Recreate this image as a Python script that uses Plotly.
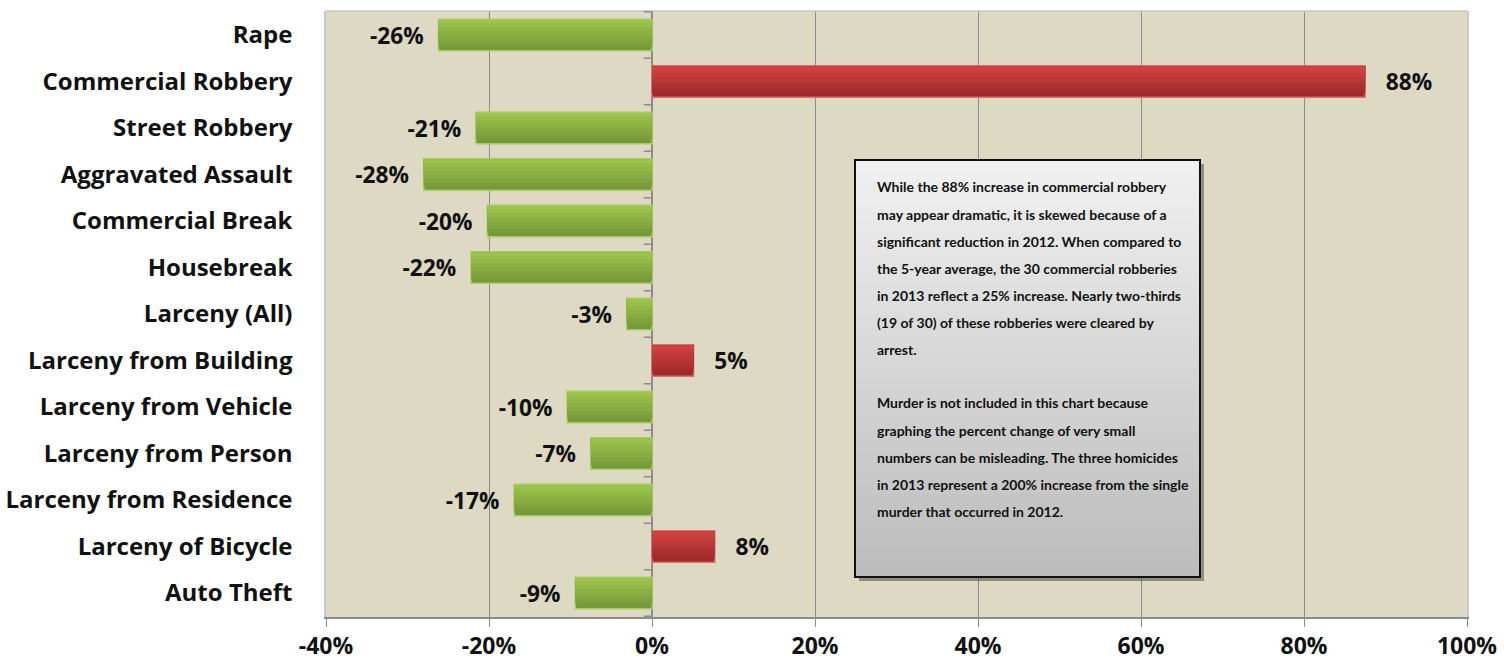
import plotly.graph_objects as go

categories = ["Rape", "Commercial Robbery", "Street Robbery", "Aggravated Assault",
              "Commercial Break", "Housebreak", "Larceny (All)", "Larceny from Building",
              "Larceny from Vehicle", "Larceny from Person", "Larceny from Residence",
              "Larceny of Bicycle", "Auto Theft"]
values = [-26.2, 87.5, -21.6, -28.0, -20.2, -22.2, -3.1, 5.1, -10.4, -7.5, -16.9, 7.7, -9.4]
labels = ["-26%", "88%", "-21%", "-28%", "-20%", "-22%", "-3%", "5%", "-10%", "-7%",
          "-17%", "8%", "-9%"]
x_ticks = [-40, -20, 0, 20, 40, 60, 80, 100]
x_tick_text = ["-40%", "-20%", "0%", "20%", "40%", "60%", "80%", "100%"]

note_lines = [
    "While the 88% increase in commercial robbery",
    "may appear dramatic, it is skewed because of a",
    "significant reduction in 2012. When compared to",
    "the 5-year average, the 30 commercial robberies",
    "in 2013 reflect a 25% increase. Nearly two-thirds",
    "(19 of 30) of these robberies were cleared by",
    "arrest.",
    "",
    "Murder is not included in this chart because",
    "graphing the percent change of very small",
    "numbers can be misleading. The three homicides",
    "in 2013 represent a 200% increase from the single",
    "murder that occurred in 2012.",
]

FONT = "Open Sans"
NOTE_FONT = "Lato"
NBSP = "\u00a0"

def lerp(c0, c1, t):
    return "rgb(%d,%d,%d)" % tuple(int(round(c0[j] + (c1[j] - c0[j]) * t)) for j in range(3))

g_bot, g_top = (0x76, 0x98, 0x38), (0x9c, 0xc4, 0x4c)
r_bot, r_top = (0x9e, 0x28, 0x2a), (0xd0, 0x42, 0x42)
NB = 8

fig = go.Figure()
BW = 0.68
fig.add_trace(go.Bar(
    y=categories, x=values, orientation="h",
    marker=dict(color=[lerp(r_bot, r_top, 0) if v > 0 else lerp(g_bot, g_top, 0) for v in values],
                line=dict(color=["#d87070" if v > 0 else "#a9cc62" for v in values], width=1.5)),
    width=BW, hoverinfo="skip",
))
for k in range(1, NB):
    t = k / (NB - 1)
    w = BW * (1 - k / NB) - 0.02
    fig.add_trace(go.Bar(
        y=categories, x=values, orientation="h",
        marker=dict(color=[lerp(r_bot, r_top, t) if v > 0 else lerp(g_bot, g_top, t) for v in values],
                    line=dict(width=0)),
        width=w, offset=-BW / 2 + 0.02, hoverinfo="skip",
    ))
fig.add_trace(go.Bar(
    y=categories, x=values, orientation="h",
    marker=dict(color="rgba(0,0,0,0)", line=dict(width=0)),
    width=BW,
    text=[(l + NBSP * 2) if v < 0 else (NBSP * 3 + l) for l, v in zip(labels, values)],
    textposition="outside", cliponaxis=False,
    textfont=dict(family=FONT, size=23, color="#111111", weight="bold"),
    hoverinfo="skip",
))

W, H = 1504, 667
ml, mr, mt, mb = 326, 37, 11, 50
pw, ph = W - ml - mr, H - mt - mb

def px_x(px):
    return (px - ml) / pw

def px_y(py):
    return 1 - (py - mt) / ph

shapes = []
shapes.append(dict(type="line", xref="paper", yref="paper", x0=0, x1=1, y0=1, y1=1,
                   line=dict(color="#c8c8c8", width=1.5)))
for i in range(len(categories) + 1):
    shapes.append(dict(type="line", xref="x", yref="y", x0=-1.0, x1=0,
                       y0=i - 0.5, y1=i - 0.5, line=dict(color="#8c8c8c", width=1.5)))

bx0, bx1, by0, by1 = 855, 1200, 160, 577
shapes.append(dict(type="rect", xref="paper", yref="paper",
                   x0=px_x(bx0 + 4), x1=px_x(bx1 + 4), y0=px_y(by1 + 4), y1=px_y(by0 + 4),
                   fillcolor="rgba(0,0,0,0.35)", line=dict(width=0), layer="above"))
n = 40
top = (240, 240, 240)
bot = (188, 188, 188)
for k in range(n):
    t = k / (n - 1)
    ya = by0 + (by1 - by0) * k / n
    yb = by0 + (by1 - by0) * (k + 1) / n
    shapes.append(dict(type="rect", xref="paper", yref="paper",
                       x0=px_x(bx0), x1=px_x(bx1), y0=px_y(min(yb + 3, by1)), y1=px_y(ya),
                       fillcolor=lerp(top, bot, t), line=dict(width=0), layer="above"))
shapes.append(dict(type="rect", xref="paper", yref="paper",
                   x0=px_x(bx0), x1=px_x(bx1), y0=px_y(by1), y1=px_y(by0),
                   fillcolor="rgba(0,0,0,0)", line=dict(color="#111111", width=2), layer="above"))

annotations = []
for i, line in enumerate(note_lines):
    if not line:
        continue
    annotations.append(dict(
        xref="paper", yref="paper", x=px_x(875), y=px_y(187 + 27 * i),
        xanchor="left", yanchor="middle", showarrow=False, text=line,
        font=dict(family=NOTE_FONT, size=14, color="#111111", weight="bold"), align="left",
    ))

fig.update_layout(
    width=W, height=H,
    margin=dict(l=ml, r=mr, t=mt, b=mb, autoexpand=False),
    paper_bgcolor="white", plot_bgcolor="#ddd9c3",
    showlegend=False, barmode="overlay",
    font=dict(family=FONT, color="#111111"),
    shapes=shapes, annotations=annotations,
    xaxis=dict(range=[-40, 100], tickvals=x_ticks, ticktext=x_tick_text,
               showgrid=True, gridcolor="#8c8c8c", gridwidth=1.2,
               zeroline=True, zerolinecolor="#8c8c8c", zerolinewidth=1.5,
               showline=True, linecolor="#8c8c8c", linewidth=1.5, mirror=False,
               ticks="outside", ticklen=8, tickcolor="#8c8c8c",
               tickfont=dict(family=FONT, size=23, color="#111111", weight="bold"),
               automargin=False, fixedrange=True),
    yaxis=dict(autorange="reversed", showgrid=False,
               showline=True, linecolor="#c8c8c8", linewidth=1.5, mirror=True,
               ticks="", ticklabelstandoff=27,
               tickfont=dict(family=FONT, size=24, color="#111111", weight="bold"),
               automargin=False, fixedrange=True),
)

fig.write_html("out.html")
